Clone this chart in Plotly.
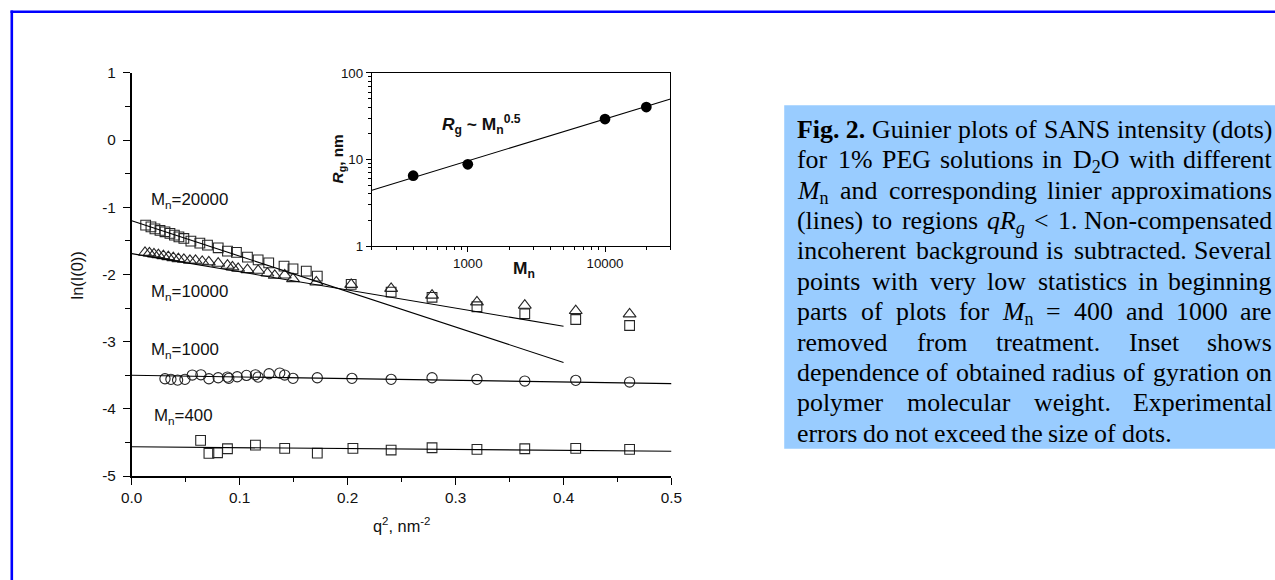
import math
import re
import plotly.graph_objects as go

W, H = 1275, 580
# affine map observed between figure pixels and the photographed picture
AX, SX = 9.0, 0.985
AY, SY = 7.8, 0.971
SCALE = (SX + SY) / 2

# ---------------- data ----------------
q2_20000 = [0.0129, 0.0178, 0.0215, 0.0262, 0.0308, 0.0354, 0.0395, 0.0437, 0.0483, 0.0548,
            0.0631, 0.0702, 0.0801, 0.0887, 0.0970, 0.1072, 0.1171, 0.1269, 0.1411, 0.1494,
            0.1617, 0.1719, 0.2033, 0.2403, 0.2782, 0.3198, 0.3641, 0.4113, 0.4612]
ln_20000 = [-1.266, -1.291, -1.321, -1.345, -1.365, -1.389, -1.414, -1.440, -1.464, -1.504,
            -1.533, -1.563, -1.603, -1.652, -1.672, -1.742, -1.782, -1.827, -1.876, -1.916,
            -1.950, -2.024, -2.148, -2.262, -2.340, -2.480, -2.585, -2.670, -2.760]

q2_10000 = [0.0123, 0.0164, 0.0206, 0.0247, 0.0293, 0.0339, 0.0385, 0.0432, 0.0483, 0.0539,
            0.0591, 0.0653, 0.0714, 0.0801, 0.0887, 0.0933, 0.0986, 0.1072, 0.1171, 0.1257,
            0.1325, 0.1417, 0.1494, 0.1710, 0.2033, 0.2403, 0.2782, 0.3198, 0.3641, 0.4113,
            0.4612]
ln_10000 = [-1.672, -1.682, -1.697, -1.708, -1.722, -1.737, -1.752, -1.767, -1.776, -1.791,
            -1.791, -1.806, -1.816, -1.835, -1.865, -1.890, -1.910, -1.931, -1.940, -1.981,
            -2.014, -2.010, -2.065, -2.114, -2.150, -2.210, -2.310, -2.410, -2.460, -2.540,
            -2.590]

q2_1000 = [0.0308, 0.0363, 0.0425, 0.0493, 0.0561, 0.0641, 0.0715, 0.0801, 0.0887, 0.0899,
           0.0977, 0.1063, 0.1146, 0.1171, 0.1272, 0.1371, 0.1417, 0.1494, 0.1719, 0.2040,
           0.2403, 0.2782, 0.3198, 0.3641, 0.4113, 0.4612]
ln_1000 = [-3.552, -3.561, -3.572, -3.561, -3.497, -3.493, -3.552, -3.537, -3.527, -3.546,
           -3.522, -3.502, -3.493, -3.527, -3.478, -3.467, -3.497, -3.546, -3.537, -3.546,
           -3.561, -3.537, -3.561, -3.586, -3.576, -3.601]

q2_400 = [0.0638, 0.0715, 0.0795, 0.0887, 0.1146, 0.1417, 0.1719, 0.2049, 0.2403, 0.2782,
          0.3198, 0.3641, 0.4113, 0.4612]
ln_400 = [-4.469, -4.662, -4.653, -4.594, -4.539, -4.588, -4.658, -4.588, -4.613, -4.579,
          -4.603, -4.594, -4.588, -4.603]

# linear Guinier fits: ln I = intercept + slope * q^2, drawn on [0, qmax]
fit_names = ["20000", "10000", "1000", "400"]
fit_intercept = [-1.200, -1.690, -3.500, -4.565]
fit_slope = [-5.275, -2.700, -0.250, -0.130]
fit_qmax = [0.40, 0.40, 0.50, 0.50]

series_labels = ["M<sub>n</sub>=20000", "M<sub>n</sub>=10000", "M<sub>n</sub>=1000", "M<sub>n</sub>=400"]
label_q2 = [0.016, 0.016, 0.016, 0.019]
label_ln = [-0.91, -2.27, -3.14, -4.12]

# inset: Rg vs Mn (log-log)
inset_Mn = [400, 1000, 10000, 20000]
inset_Rg = [6.5, 8.8, 29.3, 40.3]
inset_fit_prefactor = 0.340
inset_fit_exponent = 0.484
inset_fit_Mrange = [200, 30000]

main_xticks = [0.0, 0.1, 0.2, 0.3, 0.4, 0.5]
main_xticktext = ["0.0", "0.1", "0.2", "0.3", "0.4", "0.5"]
main_yticks = [-5, -4, -3, -2, -1, 0, 1]
main_yticktext = ["-5", "-4", "-3", "-2", "-1", "0", "1"]
inset_xticks = [1000, 10000]
inset_xticktext = ["1000", "10000"]
inset_yticks = [1, 10, 100]
inset_yticktext = ["1", "10", "100"]

# caption (justified lines, tokens)
caption_lines = [
    ["<b>Fig. 2.</b>", "Guinier", "plots", "of", "SANS", "intensity", "(dots)"],
    ["for", "1%", "PEG", "solutions", "in", "D<sub>2</sub>O", "with", "different"],
    ["<i>M</i><sub>n</sub>", "and", "corresponding", "linier", "approximations"],
    ["(lines)", "to", "regions", "<i>qR</i><sub><i>g</i></sub>", "&lt;", "1.", "Non-compensated"],
    ["incoherent", "background", "is", "subtracted.", "Several"],
    ["points", "with", "very", "low", "statistics", "in", "beginning"],
    ["parts", "of", "plots", "for", "<i>M</i><sub>n</sub>", "=", "400", "and", "1000", "are"],
    ["removed", "from", "treatment.", "Inset", "shows"],
    ["dependence", "of", "obtained", "radius", "of", "gyration", "on"],
    ["polymer", "molecular", "weight.", "Experimental"],
    ["errors", "do", "not", "exceed", "the", "size", "of", "dots."],
]

# ---------------- text metrics (Times / Liberation Serif widths, per 1000 em) ----------------
TIMES = {" ": 250, "%": 833, "(": 333, ")": 333, ",": 250, "-": 333, ".": 250, "<": 564,
         "=": 564, "~": 541}
TIMES.update({d: 500 for d in "0123456789"})
TIMES.update(dict(zip("ABCDEFGHIJKLMNOPQRSTUVWXYZ",
                      [722, 667, 667, 722, 611, 556, 722, 722, 333, 389, 722, 611, 889, 722, 722,
                       556, 722, 667, 556, 611, 722, 722, 944, 722, 722, 611])))
TIMES.update(dict(zip("abcdefghijklmnopqrstuvwxyz",
                      [444, 500, 444, 500, 444, 333, 500, 500, 278, 278, 500, 278, 778, 500, 500,
                       500, 500, 333, 389, 278, 500, 500, 722, 500, 500, 444])))
TIMES_BOLD = {"F": 611, "2": 500, ".": 250, "i": 278, "g": 500}
TIMES_ITAL = {"M": 833, "R": 611, "q": 500, "g": 500}


def token_width(tok, size):
    w = 0.0
    sub = bold = ital = False
    for part in re.split(r"(<[^>]+>)", tok):
        if not part:
            continue
        if part.startswith("<"):
            closing = part.startswith("</")
            tag = part.strip("</>").lower()
            if tag == "sub":
                sub = not closing
            elif tag == "b":
                bold = not closing
            elif tag == "i":
                ital = not closing
            continue
        for ch in part.replace("&lt;", "<"):
            cw = TIMES.get(ch, 500)
            if bold:
                cw = TIMES_BOLD.get(ch, cw)
            if ital:
                cw = TIMES_ITAL.get(ch, cw)
            w += cw / 1000.0 * size * (0.7 if sub else 1.0)
    return w


# ---------------- layout geometry (picture px) ----------------
MAIN_L, MAIN_R, MAIN_T, MAIN_B = 130, 671, 71.7, 475
INS_L, INS_R, INS_T, INS_B = 370.7, 670, 71.7, 245


def px(x):
    return ((x - AX) / SX) / W


def py(y):
    return 1 - ((y - AY) / SY) / H


def fs(size):
    return size / SCALE


SANS = "Liberation Sans, Arial, sans-serif"
SERIF = "Liberation Serif, Times New Roman, serif"
MK = "#262626"

fig = go.Figure()

series = [
    (q2_20000, ln_20000, "square-open", 9.5),
    (q2_10000, ln_10000, "triangle-up-open", 11),
    (q2_1000, ln_1000, "circle-open", 10),
    (q2_400, ln_400, "square-open", 9.5),
]
for xs, ys, sym, sz in series:
    fig.add_trace(go.Scatter(x=xs, y=ys, mode="markers", xaxis="x", yaxis="y",
                             marker=dict(symbol=sym, size=fs(sz), color=MK,
                                         line=dict(width=1.1, color=MK)),
                             showlegend=False, hoverinfo="skip"))

for b, k, qm in zip(fit_intercept, fit_slope, fit_qmax):
    fig.add_trace(go.Scatter(x=[0, qm], y=[b, b + k * qm], mode="lines", xaxis="x", yaxis="y",
                             line=dict(color="black", width=1.1),
                             showlegend=False, hoverinfo="skip"))

fig.add_trace(go.Scatter(x=inset_fit_Mrange,
                         y=[inset_fit_prefactor * m ** inset_fit_exponent for m in inset_fit_Mrange],
                         mode="lines", xaxis="x2", yaxis="y2",
                         line=dict(color="black", width=1.1), showlegend=False, hoverinfo="skip"))
fig.add_trace(go.Scatter(x=inset_Mn, y=inset_Rg, mode="markers", xaxis="x2", yaxis="y2",
                         marker=dict(symbol="circle", size=fs(10.5), color="black"),
                         showlegend=False, hoverinfo="skip"))

annotations = []
for txt, qx, ly in zip(series_labels, label_q2, label_ln):
    annotations.append(dict(text=txt, x=qx, y=ly, xref="x", yref="y", xanchor="left",
                            yanchor="middle", showarrow=False,
                            font=dict(family=SANS, size=fs(16.5), color="#111")))

annotations.append(dict(text="ln(I(0))", x=px(75.5), y=py(274), xref="paper", yref="paper",
                        textangle=-90, showarrow=False, xanchor="center", yanchor="middle",
                        font=dict(family=SANS, size=fs(16), color="#111")))
annotations.append(dict(text="q<sup>2</sup>, nm<sup>-2</sup>", x=px(400), y=py(524),
                        xref="paper", yref="paper", showarrow=False, xanchor="center",
                        yanchor="middle", font=dict(family=SANS, size=fs(16), color="#111")))
annotations.append(dict(text="<b><i>R</i><sub>g</sub>, nm</b>", x=px(337), y=py(158),
                        xref="paper", yref="paper", textangle=-90, showarrow=False,
                        xanchor="center", yanchor="middle",
                        font=dict(family=SANS, size=fs(15), color="#111")))
annotations.append(dict(text="<b>M<sub>n</sub></b>", x=px(523), y=py(268),
                        xref="paper", yref="paper", showarrow=False, xanchor="center",
                        yanchor="middle", font=dict(family=SANS, size=fs(17), color="#111")))
annotations.append(dict(text="<b><i>R</i><sub>g</sub> ~ M<sub>n</sub><sup>0.5</sup></b>",
                        x=px(439), y=py(123), xref="paper", yref="paper", showarrow=False,
                        xanchor="left", yanchor="middle",
                        font=dict(family=SANS, size=fs(17), color="#111")))

# caption, justified word by word (widths in picture px)
CAP_SIZE = 25.5
TEXT_LEFT, TEXT_RIGHT = 797.3, 1272.7
LINE0, LINE_STEP = 128.5, 30.4
for i, toks in enumerate(caption_lines):
    widths = [token_width(t, CAP_SIZE) for t in toks]
    last = i == len(caption_lines) - 1
    if last or len(toks) == 1:
        gap = TIMES[" "] / 1000.0 * CAP_SIZE
    else:
        gap = (TEXT_RIGHT - TEXT_LEFT - sum(widths)) / (len(toks) - 1)
    top = LINE0 + i * LINE_STEP - 14.8
    x = TEXT_LEFT
    for j, (t, w) in enumerate(zip(toks, widths)):
        if (not last) and j == len(toks) - 1 and j > 0:
            xa, xpos = "right", TEXT_RIGHT
        else:
            xa, xpos = "left", x
        annotations.append(dict(text=t, x=px(xpos), y=py(top), xref="paper", yref="paper",
                                xanchor=xa, yanchor="top", showarrow=False,
                                borderpad=0, borderwidth=0,
                                font=dict(family=SERIF, size=CAP_SIZE / SX, color="black")))
        x += w + gap

shapes = [
    dict(type="rect", xref="paper", yref="paper", x0=px(784), x1=px(W + 20), y0=py(447.7),
         y1=py(104), fillcolor="#99CCFF", line=dict(width=0), layer="below"),
    dict(type="line", xref="paper", yref="paper", x0=px(9.8), x1=px(9.8), y0=py(H + 20),
         y1=py(9.2), line=dict(color="#0000FF", width=2.6)),
    dict(type="line", xref="paper", yref="paper", x0=px(8.5), x1=px(W + 20), y0=py(10.5),
         y1=py(10.5), line=dict(color="#0000FF", width=2.6)),
]

fig.update_layout(
    width=W, height=H,
    margin=dict(l=0, r=0, t=0, b=0),
    paper_bgcolor="white", plot_bgcolor="rgba(0,0,0,0)",
    showlegend=False,
    font=dict(family=SANS, color="#111"),
    xaxis=dict(domain=[px(MAIN_L), px(MAIN_R)], range=[0, 0.5], anchor="y",
               tickmode="array", tickvals=main_xticks, ticktext=main_xticktext,
               ticks="outside", ticklen=7, tickwidth=1.2, tickcolor="black",
               minor=dict(tickmode="linear", tick0=0, dtick=0.05, ticks="outside",
                          ticklen=4, tickwidth=1.2, tickcolor="black", showgrid=False),
               showline=True, linecolor="black", linewidth=1.5, showgrid=False,
               zeroline=False, tickfont=dict(size=fs(15), family=SANS, color="#111")),
    yaxis=dict(domain=[py(MAIN_B), py(MAIN_T)], range=[-5, 1], anchor="x",
               tickmode="array", tickvals=main_yticks, ticktext=main_yticktext,
               ticks="outside", ticklen=7, tickwidth=1.2, tickcolor="black",
               minor=dict(tickmode="linear", tick0=0.5, dtick=1, ticks="outside",
                          ticklen=5, tickwidth=1.2, tickcolor="black", showgrid=False),
               showline=True, linecolor="black", linewidth=1.5, showgrid=False,
               zeroline=False, ticklabelstandoff=4,
               tickfont=dict(size=fs(15), family=SANS, color="#111")),
    xaxis2=dict(domain=[px(INS_L), px(INS_R)], type="log",
                range=[math.log10(inset_fit_Mrange[0]), math.log10(inset_fit_Mrange[1])],
                anchor="y2", tickmode="array", tickvals=inset_xticks, ticktext=inset_xticktext,
                ticks="outside", ticklen=5, tickwidth=1, tickcolor="black",
                minor=dict(tickmode="array",
                           tickvals=[m * 10 ** e for e in (2, 3, 4) for m in range(2, 10)],
                           ticks="outside", ticklen=3, tickwidth=1, tickcolor="black",
                           showgrid=False),
                showline=True, mirror=True, linecolor="black", linewidth=1.2,
                showgrid=False, zeroline=False,
                tickfont=dict(size=fs(13), family=SANS, color="#111")),
    yaxis2=dict(domain=[py(INS_B), py(INS_T)], type="log", range=[0, 2], anchor="x2",
                tickmode="array", tickvals=inset_yticks, ticktext=inset_yticktext,
                ticks="outside", ticklen=5, tickwidth=1, tickcolor="black",
                minor=dict(tickmode="array",
                           tickvals=[m * 10 ** e for e in (0, 1) for m in range(2, 10)],
                           ticks="outside", ticklen=3, tickwidth=1, tickcolor="black",
                           showgrid=False),
                showline=True, mirror=True, linecolor="black", linewidth=1.2,
                showgrid=False, zeroline=False,
                tickfont=dict(size=fs(13), family=SANS, color="#111")),
    annotations=annotations,
    shapes=shapes,
)

fig.write_html("out.html")
